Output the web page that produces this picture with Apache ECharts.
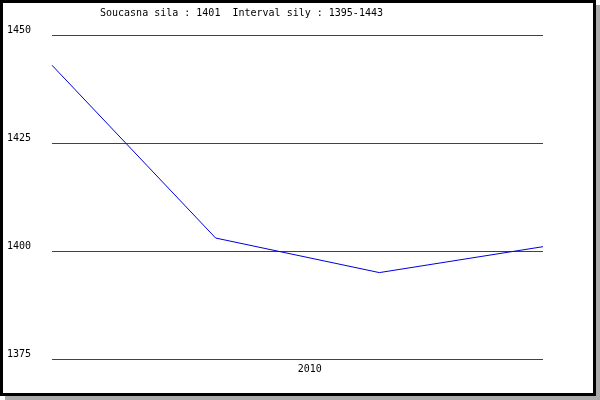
<!DOCTYPE html>
<html>
<head>
<meta charset="utf-8">
<script src="https://cdn.jsdelivr.net/npm/echarts@6/dist/echarts.min.js"></script>
<style>html,body{margin:0;padding:0;background:#fff}#c{width:600px;height:400px}</style>
</head>
<body>
<div id="c"></div>
<script>
var titleText = 'Soucasna sila : 1401  Interval sily : 1395-1443';
var xPositions = [0, 1, 2, 3];
var strength = [1443, 1403, 1395, 1401];
var yTicks = [1375, 1400, 1425, 1450];
var xTickLabels = ['2010'];
var xTickValues = [1.575];

var chart = echarts.init(document.getElementById('c'), null, {renderer: 'canvas'});
var mono = 'DejaVu Sans Mono';
chart.setOption({
  animation: false,
  backgroundColor: '#fff',
  title: {
    text: titleText, left: 100, top: 8, padding: 0,
    textStyle: {fontFamily: mono, fontSize: 10, fontWeight: 'normal', color: '#000'}
  },
  graphic: [
    {type: 'rect', z: -100, shape: {x: 5, y: 5, width: 595, height: 395}, style: {fill: '#aaaaaa'}},
    {type: 'rect', z: -99, shape: {x: 0, y: 0, width: 596, height: 396}, style: {fill: '#000'}},
    {type: 'rect', z: -98, shape: {x: 3, y: 3, width: 590, height: 390}, style: {fill: '#fff'}}
  ],
  grid: {left: 52, right: 57, top: 35, bottom: 41, containLabel: false},
  xAxis: {
    type: 'value', min: xPositions[0], max: xPositions[xPositions.length - 1],
    axisLine: {show: false}, axisTick: {show: false}, splitLine: {show: false},
    axisLabel: {
      customValues: xTickValues, margin: 5,
      fontFamily: mono, fontSize: 10, color: '#000',
      formatter: function (v) { var i = xTickValues.indexOf(v); return i >= 0 ? xTickLabels[i] : ''; }
    }
  },
  yAxis: {
    type: 'value', min: yTicks[0], max: yTicks[yTicks.length - 1], interval: 25,
    axisLine: {show: false}, axisTick: {show: false},
    splitLine: {show: true, lineStyle: {color: '#dd0000', width: 1}},
    axisLabel: {
      align: 'left', verticalAlign: 'bottom', margin: 45,
      fontFamily: mono, fontSize: 10, color: '#000',
      formatter: function (v) { return String(v); }
    }
  },
  series: [{
    type: 'line',
    data: xPositions.map(function (x, i) { return [x, strength[i]]; }),
    showSymbol: false, smooth: false,
    lineStyle: {color: '#0000dd', width: 1},
    itemStyle: {color: '#0000dd'}
  }]
});
</script>
</body>
</html>
